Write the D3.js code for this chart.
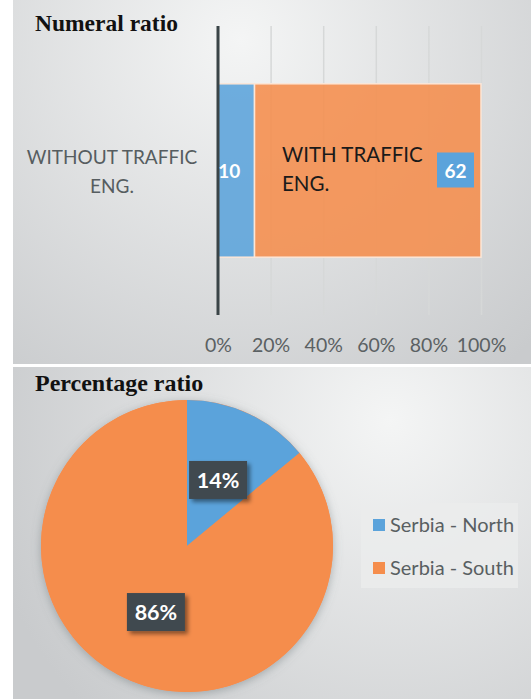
<!DOCTYPE html>
<html>
<head>
<meta charset="utf-8">
<script src="https://cdn.jsdelivr.net/npm/d3@7"></script>
<style>
  html, body { margin: 0; padding: 0; background: #fff; }
  svg { display: block; }
</style>
</head>
<body>
<svg id="chart" width="531" height="699"></svg>
<script>
// top chart data
const barCategories = ["WITHOUT TRAFFIC ENG."];
const barSeries = ["WITHOUT TRAFFIC ENG.", "WITH TRAFFIC ENG."];
const barValues = [10, 62];
const barTicks = [0, 0.2, 0.4, 0.6, 0.8, 1];

// pie data
const pieLabels = ["Serbia - North", "Serbia - South"];
const pieValues = [14, 86];

const blue = "#5ba3db";
const orange = "#f58d4c";
const font = "Lato, 'Open Sans', sans-serif";
const serif = "'Liberation Serif', 'Times New Roman', serif";

const svg = d3.select("#chart");
const defs = svg.append("defs");

// panel backgrounds
function radial(id, cx, cy, r) {
  const g = defs.append("radialGradient")
    .attr("id", id)
    .attr("gradientUnits", "userSpaceOnUse")
    .attr("cx", cx).attr("cy", cy).attr("r", r);
  g.append("stop").attr("offset", "0%").attr("stop-color", "#f4f5f5");
  g.append("stop").attr("offset", "100%").attr("stop-color", "#c9cbcd");
}
radial("bg1", 240, 40, 420);
radial("bg2", 390, 420, 420);

svg.append("rect").attr("x", 13).attr("y", 0).attr("width", 518).attr("height", 364)
  .attr("fill", "url(#bg1)");
svg.append("rect").attr("x", 13).attr("y", 367).attr("width", 518).attr("height", 332)
  .attr("fill", "url(#bg2)");

// gridline gradient
const gg = defs.append("linearGradient").attr("id", "gridGrad")
  .attr("gradientUnits", "userSpaceOnUse")
  .attr("x1", 0).attr("y1", 26).attr("x2", 0).attr("y2", 315);
gg.append("stop").attr("offset", "0%").attr("stop-color", "#d6d8d8");
gg.append("stop").attr("offset", "100%").attr("stop-color", "#878d8f");

// shadows
const sh = defs.append("filter").attr("id", "boxShadow")
  .attr("x", "-30%").attr("y", "-30%").attr("width", "160%").attr("height", "160%");
sh.append("feDropShadow").attr("dx", 3).attr("dy", 3).attr("stdDeviation", 2)
  .attr("flood-color", "#000").attr("flood-opacity", 0.45);

const ps = defs.append("filter").attr("id", "pieShadow")
  .attr("x", "-20%").attr("y", "-20%").attr("width", "140%").attr("height", "140%");
ps.append("feDropShadow").attr("dx", 0).attr("dy", 2).attr("stdDeviation", 5)
  .attr("flood-color", "#6c7478").attr("flood-opacity", 0.5);

// ---- Numeral ratio ----
svg.append("text")
  .attr("x", 35).attr("y", 31)
  .attr("font-family", serif)
  .attr("font-weight", "bold").attr("font-size", 23.5)
  .attr("fill", "#111")
  .text("Numeral ratio");

const x = d3.scaleLinear().domain([0, 1]).range([218, 481]);
const y = d3.scaleBand().domain(barCategories).range([26, 315]).padding(0.25);

// gridlines + tick labels
const axis = svg.append("g")
  .attr("transform", "translate(0,315)")
  .call(d3.axisBottom(x).tickValues(barTicks).tickSize(-289).tickFormat(d3.format(".0%")));
axis.select(".domain").remove();
axis.selectAll(".tick line")
  .attr("stroke", "url(#gridGrad)").attr("stroke-width", 1.5);
axis.selectAll(".tick text")
  .attr("y", 23)
  .attr("font-family", font).attr("font-size", 19.5)
  .attr("fill", "#5b6163");

const total = d3.sum(barValues);
const stacked = barValues.map((v, i) => ({
  name: barSeries[i],
  value: v,
  x0: d3.sum(barValues.slice(0, i)) / total,
  x1: d3.sum(barValues.slice(0, i + 1)) / total
}));

const barG = svg.append("g");
barG.selectAll("rect")
  .data(stacked)
  .join("rect")
  .attr("x", (d) => x(d.x0))
  .attr("y", y(barCategories[0]))
  .attr("width", (d) => x(d.x1) - x(d.x0))
  .attr("height", y.bandwidth())
  .attr("fill", (d, i) => (i === 0 ? blue : orange))
  .attr("fill-opacity", 0.88)
  .attr("stroke", "#fbe6d8")
  .attr("stroke-width", 1.5);

// zero axis line
svg.append("line")
  .attr("x1", x(0)).attr("x2", x(0))
  .attr("y1", 26).attr("y2", 315)
  .attr("stroke", "#3a4447").attr("stroke-width", 3);

// category label
const cy = y(barCategories[0]) + y.bandwidth() / 2;
svg.append("text")
  .attr("x", 112).attr("y", cy - 7)
  .attr("text-anchor", "middle")
  .attr("font-family", font).attr("font-size", 19)
  .attr("fill", "#565d60")
  .selectAll("tspan")
  .data(["WITHOUT TRAFFIC", "ENG."])
  .join("tspan")
  .attr("x", 112)
  .attr("dy", (d, i) => (i === 0 ? 0 : 29))
  .text((d) => d);

// value label first segment
svg.append("text")
  .attr("x", (x(stacked[0].x0) + x(stacked[0].x1)) / 2 - 7)
  .attr("y", cy + 7)
  .attr("text-anchor", "middle")
  .attr("font-family", font).attr("font-weight", "bold").attr("font-size", 19)
  .attr("fill", "#fff")
  .text(stacked[0].value);

// series name in orange segment
svg.append("text")
  .attr("x", 282).attr("y", cy - 9)
  .attr("font-family", font).attr("font-size", 20.5)
  .attr("fill", "#1a1a1a")
  .selectAll("tspan")
  .data(["WITH TRAFFIC", "ENG."])
  .join("tspan")
  .attr("x", 282)
  .attr("dy", (d, i) => (i === 0 ? 0 : 29))
  .text((d) => d);

// value label second segment
svg.append("rect")
  .attr("x", x(stacked[1].x1) - 44).attr("y", cy - 18)
  .attr("width", 37).attr("height", 35)
  .attr("fill", blue);
svg.append("text")
  .attr("x", x(stacked[1].x1) - 25.5).attr("y", cy + 7)
  .attr("text-anchor", "middle")
  .attr("font-family", font).attr("font-weight", "bold").attr("font-size", 19)
  .attr("fill", "#fff")
  .text(stacked[1].value);

// ---- Percentage ratio ----
svg.append("text")
  .attr("x", 35).attr("y", 391)
  .attr("font-family", serif)
  .attr("font-weight", "bold").attr("font-size", 24)
  .attr("fill", "#111")
  .text("Percentage ratio");

const R = 146;
const pieG = svg.append("g").attr("transform", "translate(187,546)");
const pie = d3.pie().sort(null).value((d) => d);
const arc = d3.arc().innerRadius(0).outerRadius(R);
const color = d3.scaleOrdinal().domain(pieLabels).range([blue, orange]);
const arcs = pie(pieValues);

pieG.append("circle").attr("r", R).attr("fill", orange).attr("filter", "url(#pieShadow)");
pieG.selectAll("path")
  .data(arcs)
  .join("path")
  .attr("d", arc)
  .attr("fill", (d, i) => color(pieLabels[i]));

const lab = pieG.selectAll("g.lab")
  .data(arcs)
  .join("g")
  .attr("class", "lab")
  .attr("transform", (d) => `translate(${arc.centroid(d)})`);
lab.append("rect")
  .attr("x", -29).attr("y", -19).attr("width", 58).attr("height", 38)
  .attr("fill", "#3f4a4f")
  .attr("filter", "url(#boxShadow)");
lab.append("text")
  .attr("text-anchor", "middle").attr("y", 8)
  .attr("font-family", font).attr("font-weight", "bold").attr("font-size", 21.5)
  .attr("fill", "#fff")
  .text((d) => Math.round((d.value / d3.sum(pieValues)) * 100) + "%");

// legend
const legend = svg.append("g");
legend.append("rect")
  .attr("x", 361).attr("y", 503).attr("width", 157).attr("height", 85)
  .attr("fill", "#ebecec").attr("fill-opacity", 0.8);
const li = legend.selectAll("g.item")
  .data(pieLabels)
  .join("g")
  .attr("class", "item")
  .attr("transform", (d, i) => `translate(373,${519 + i * 43})`);
li.append("rect").attr("width", 12).attr("height", 12).attr("fill", (d) => color(d));
li.append("text")
  .attr("x", 17).attr("y", 13)
  .attr("font-family", font).attr("font-size", 20)
  .attr("fill", "#595f62")
  .text((d) => d);
</script>
</body>
</html>
